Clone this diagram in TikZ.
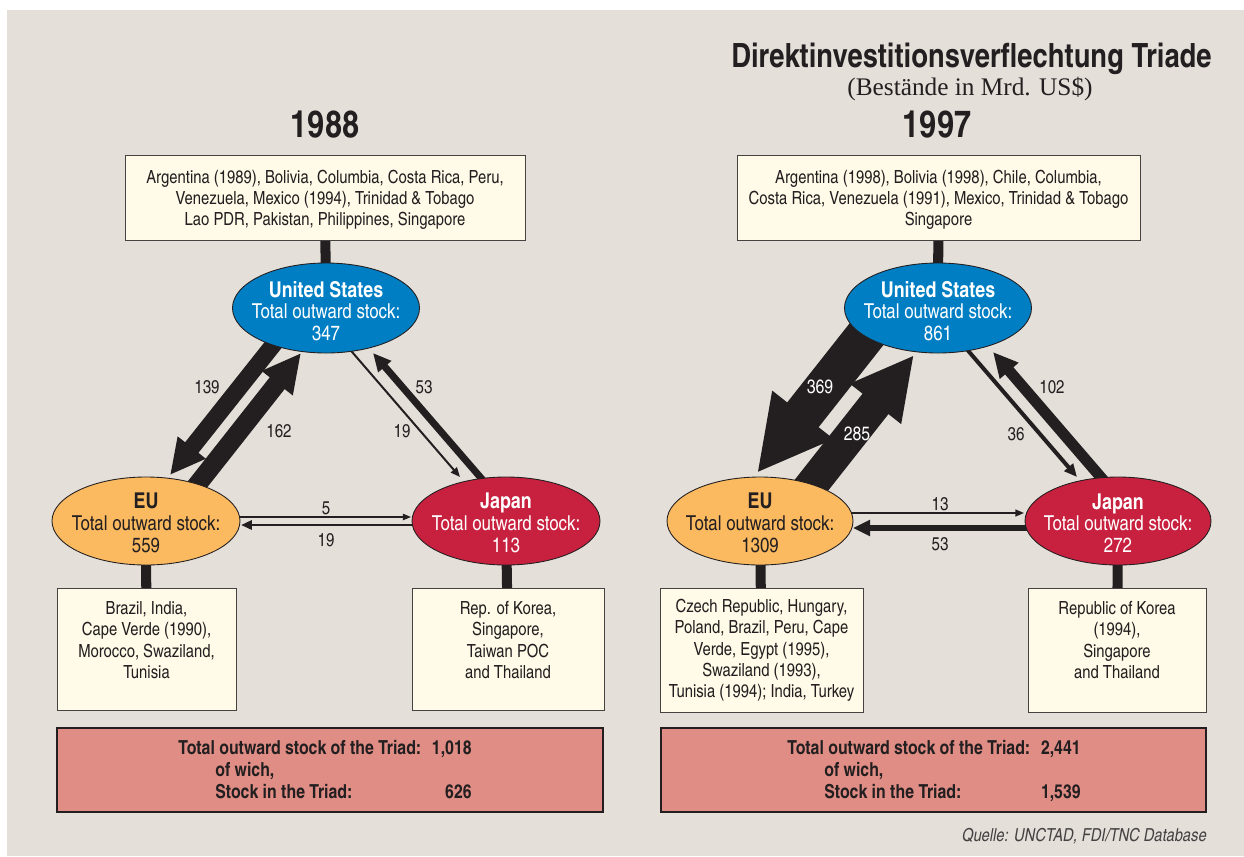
\documentclass[tikz,border=0pt]{standalone}
\usepackage{fontspec}
\setmainfont{texgyreheroscn}[Extension=.otf, UprightFont=*-regular, BoldFont=*-bold, ItalicFont=*-italic, BoldItalicFont=*-bolditalic]
\newfontfamily\serifx{Liberation Serif}
\usetikzlibrary{shapes.geometric,arrows.meta}
\pgfdeclarelayer{back}
\pgfdeclarelayer{links}
\pgfsetlayers{back,links,main}
\definecolor{panel}{RGB}{228,223,217}
\definecolor{cream}{RGB}{255,251,232}
\definecolor{usblue}{RGB}{0,126,196}
\definecolor{euorange}{RGB}{252,186,96}
\definecolor{jpred}{RGB}{200,33,63}
\definecolor{pinkbox}{RGB}{224,141,133}
\definecolor{ink}{RGB}{35,31,32}
\definecolor{boxline}{RGB}{70,66,66}
\newcommand\bodyf{\fontsize{10.3pt}{12.1pt}\selectfont}
\newcommand\ellf{\fontsize{11.7pt}{12.4pt}\selectfont}
\newcommand\ellh{\bfseries\fontsize{12.4pt}{12.4pt}\selectfont}
\tikzset{
  infobox/.style={draw=boxline, line width=0.5pt, fill=cream, inner sep=0pt},
  sumbox/.style={draw=ink, line width=0.7pt, fill=pinkbox, inner sep=0pt},
  blob/.style={ellipse, draw=ink, line width=0.5pt, inner sep=0pt},
  txt/.style={inner sep=0pt, align=center, font=\bodyf, text=ink},
  sumtxt/.style={inner sep=0pt, font=\fontsize{11pt}{13pt}\bfseries, text=ink},
  etxt/.style={inner sep=0pt, align=center, font=\ellf},
  bar/.style={draw=ink, line width=5.7pt},
  flow/.style={draw=ink, line width=#1*0.569pt, line join=miter, -{Triangle[length=3.5pt 1.7, width=2.5pt 1.7]}},
  num/.style={inner sep=0pt, font=\fontsize{10.5pt}{12pt}\selectfont, text=ink},
}
\begin{document}
\begin{tikzpicture}[x=0.02cm, y=-0.02cm]
\useasboundingbox (0,0) rectangle (1244,856);
\begin{pgfonlayer}{back}
  \fill[white] (0,0) rectangle (1244,856);
  \fill[panel] (7,10) rectangle (1244,856);
\end{pgfonlayer}

% ---------- titles ----------
\node[inner sep=0pt, anchor=mid east, font=\fontsize{19pt}{22pt}\bfseries, text=ink] (title) at (1212,63) {Direktinvestitionsverflechtung Triade};
\node[inner sep=0pt, font=\serifx\fontsize{14.4pt}{16pt}\selectfont, text=ink] (subtitle) at (970,89) {(Bestände in Mrd. US\$)};
\node[inner sep=0pt, font=\fontsize{21.3pt}{24pt}\bfseries, text=ink] (yearL) at (325,125) {1988};
\node[inner sep=0pt, font=\fontsize{21.3pt}{24pt}\bfseries, text=ink] (yearR) at (937,125) {1997};

% ---------- 1988 ----------
\node[infobox, minimum width=400*0.02cm, minimum height=85*0.02cm] (topL) at (325,197.5) {};
\node[txt] (topLt) at (325,200) {Argentina (1989), Bolivia, Columbia, Costa Rica, Peru,\\Venezuela, Mexico (1994), Trinidad \& Tobago\\Lao PDR, Pakistan, Philippines, Singapore};

\node[blob, fill=usblue, minimum width=187*0.02cm, minimum height=90*0.02cm] (usL) at (326,308) {};
\node[etxt, text=white] (usLt) at (326,311) {{\ellh United States}\\Total outward stock:\\347};
\node[blob, fill=euorange, minimum width=188*0.02cm, minimum height=88*0.02cm] (euL) at (146,521) {};
\node[etxt, text=ink] (euLt) at (146,523) {{\ellh EU}\\Total outward stock:\\559};
\node[blob, fill=jpred, minimum width=188*0.02cm, minimum height=88*0.02cm] (jpL) at (506,521) {};
\node[etxt, text=white] (jpLt) at (506,523) {{\ellh Japan}\\Total outward stock:\\113};

\node[infobox, minimum width=179*0.02cm, minimum height=122*0.02cm] (euLb) at (146.5,649) {};
\node[txt] (euLbt) at (146.5,640) {Brazil, India,\\Cape Verde (1990),\\Morocco, Swaziland,\\Tunisia};
\node[infobox, minimum width=192*0.02cm, minimum height=122*0.02cm] (jpLb) at (508,649) {};
\node[txt] (jpLbt) at (508,640) {Rep. of Korea,\\Singapore,\\Taiwan POC\\and Thailand};

\node[sumbox, minimum width=546*0.02cm, minimum height=84*0.02cm] (sumL) at (330,770) {};
\node[sumtxt, anchor=mid west] (sL1) at (178,750) {Total outward stock of the Triad:};
\node[sumtxt, anchor=mid east] (sL1v) at (472,750) {1,018};
\node[sumtxt, anchor=mid west] (sL2) at (215,772) {of wich,};
\node[sumtxt, anchor=mid west] (sL3) at (215,794) {Stock in the Triad:};
\node[sumtxt, anchor=mid east] (sL3v) at (472,794) {626};

% flow end points 1988
\coordinate (a1s) at (285,330); \coordinate (a1e) at (170,475);
\coordinate (a2s) at (182,504); \coordinate (a2e) at (301,353);
\coordinate (a3s) at (340,338); \coordinate (a3e) at (460,477);
\coordinate (a4s) at (494,493); \coordinate (a4e) at (373,353);
\coordinate (a5s) at (230,517); \coordinate (a5e) at (411,517);
\coordinate (a6s) at (420,525); \coordinate (a6e) at (241,525);

\node[num] (n139) at (207,387) {139};
\node[num] (n162) at (279,431) {162};
\node[num] (n19a) at (402,431) {19};
\node[num] (n53a) at (424,387) {53};
\node[num] (n5) at (326,508) {5};
\node[num] (n19b) at (326,540) {19};

% ---------- 1997 ----------
\node[infobox, minimum width=403*0.02cm, minimum height=85*0.02cm] (topR) at (938.5,197.5) {};
\node[txt] (topRt) at (938.5,200) {Argentina (1998), Bolivia (1998), Chile, Columbia,\\Costa Rica, Venezuela (1991), Mexico, Trinidad \& Tobago\\Singapore};

\node[blob, fill=usblue, minimum width=187*0.02cm, minimum height=90*0.02cm] (usR) at (938,308) {};
\node[etxt, text=white] (usRt) at (938,311) {{\ellh United States}\\Total outward stock:\\861};
\node[blob, fill=euorange, minimum width=186*0.02cm, minimum height=88*0.02cm] (euR) at (760,521) {};
\node[etxt, text=ink] (euRt) at (760,523) {{\ellh EU}\\Total outward stock:\\1309};
\node[blob, fill=jpred, minimum width=186*0.02cm, minimum height=88*0.02cm] (jpR) at (1118,521) {};
\node[etxt, text=white] (jpRt) at (1118,523) {{\ellh Japan}\\Total outward stock:\\272};

\node[infobox, minimum width=203*0.02cm, minimum height=124*0.02cm] (euRb) at (761.5,650) {};
\node[txt] (euRbt) at (761.5,650.5) {Czech Republic, Hungary,\\Poland, Brazil, Peru, Cape\\Verde, Egypt (1995),\\Swaziland (1993),\\Tunisia (1994); India, Turkey};
\node[infobox, minimum width=178*0.02cm, minimum height=124*0.02cm] (jpRb) at (1117,650) {};
\node[txt] (jpRbt) at (1117,640) {Republic of Korea\\(1994),\\Singapore\\and Thailand};

\node[sumbox, minimum width=545*0.02cm, minimum height=84*0.02cm] (sumR) at (933.5,770) {};
\node[sumtxt, anchor=mid west] (sR1) at (787,750) {Total outward stock of the Triad:};
\node[sumtxt, anchor=mid east] (sR1v) at (1081,750) {2,441};
\node[sumtxt, anchor=mid west] (sR2) at (824,772) {of wich,};
\node[sumtxt, anchor=mid west] (sR3) at (824,794) {Stock in the Triad:};
\node[sumtxt, anchor=mid east] (sR3v) at (1081,794) {1,539};

% flow end points 1997
\coordinate (b1s) at (884,312); \coordinate (b1e) at (757,473);
\coordinate (b2s) at (784,520); \coordinate (b2e) at (914,355);
\coordinate (b3s) at (958,339); \coordinate (b3e) at (1077,477);
\coordinate (b4s) at (1117,496); \coordinate (b4e) at (993,352);
\coordinate (b5s) at (845,513); \coordinate (b5e) at (1024,513);
\coordinate (b6s) at (1035,528); \coordinate (b6e) at (853,528);

\node[inner sep=0pt, font=\fontsize{11pt}{12pt}\selectfont, text=white] (n369) at (820,387) {369};
\node[inner sep=0pt, font=\fontsize{11pt}{12pt}\selectfont, text=white] (n285) at (857,434) {285};
\node[num] (n102) at (1052,387) {102};
\node[num] (n36) at (1016,434) {36};
\node[num] (n13) at (940,504) {13};
\node[num] (n53b) at (940,544) {53};

\node[inner sep=0pt, anchor=mid east, font=\fontsize{10.2pt}{12pt}\itshape, text=ink!85] (source) at (1207,837) {Quelle: UNCTAD, FDI/TNC Database};

% ---------- connectors ----------
\begin{pgfonlayer}{links}
  \draw[bar] (topL.center) -- (usL.center);
  \draw[bar] (euL.center) -- (euLb.center);
  \draw[bar] (jpL.center) -- (jpLb.center);
  \draw[bar] (topR.center) -- (usR.center);
  \draw[bar] (euR.center) -- (euRb.center);
  \draw[bar] (jpR.center) -- (jpRb.center);

  \draw[flow=17] (a1s) -- (a1e);
  \draw[flow=19] (a2s) -- (a2e);
  \draw[flow=2] (a3s) -- (a3e);
  \draw[flow=7] (a4s) -- (a4e);
  \draw[flow=1.2] (a5s) -- (a5e);
  \draw[flow=2.8] (a6s) -- (a6e);

  \draw[flow=40] (b1s) -- (b1e);
  \draw[flow=33] (b2s) -- (b2e);
  \draw[flow=4] (b3s) -- (b3e);
  \draw[flow=11] (b4s) -- (b4e);
  \draw[flow=1.5] (b5s) -- (b5e);
  \draw[flow=6.5] (b6s) -- (b6e);
\end{pgfonlayer}
\end{tikzpicture}
\end{document}
